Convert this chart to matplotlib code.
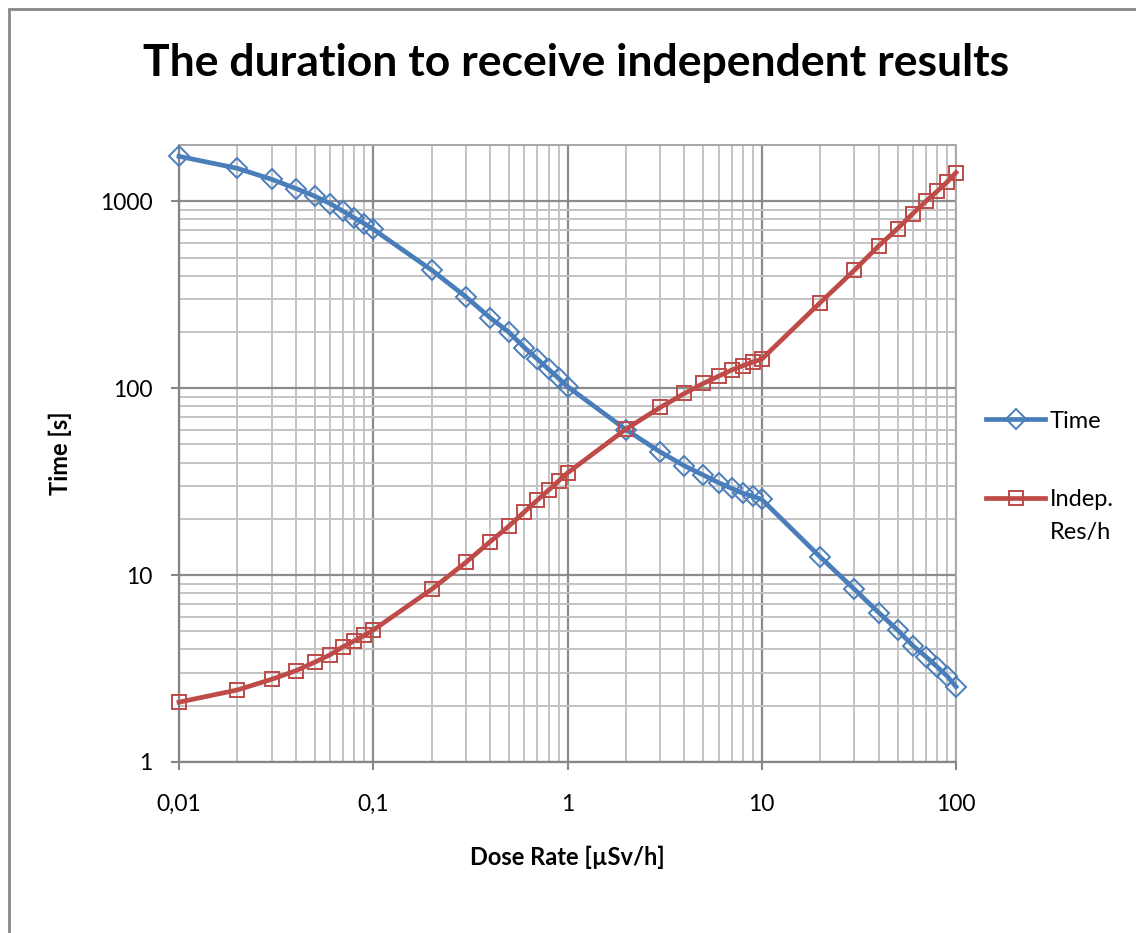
import numpy as np
import matplotlib.pyplot as plt
from matplotlib.patches import Rectangle
from matplotlib.lines import Line2D

plt.rcParams['font.family'] = ['Lato', 'DejaVu Sans']

dose = [0.01, 0.02, 0.03, 0.04, 0.05, 0.06, 0.07, 0.08, 0.09,
        0.1, 0.2, 0.3, 0.4, 0.5, 0.6, 0.7, 0.8, 0.9,
        1, 2, 3, 4, 5, 6, 7, 8, 9,
        10, 20, 30, 40, 50, 60, 70, 80, 90, 100]

time_s = [1740, 1500, 1310, 1170, 1065, 972, 884, 814, 760,
          708, 428, 308, 238, 199, 165, 143, 126, 113,
          102, 60, 45.6, 38.4, 34.3, 31.2, 29.1, 27.4, 26.4,
          25.4, 12.5, 8.4, 6.3, 5.08, 4.19, 3.66, 3.23, 2.88, 2.53]

indep_res_h = [2.09, 2.43, 2.77, 3.08, 3.42, 3.75, 4.14, 4.45, 4.76,
               5.08, 8.4, 11.7, 15.1, 18.3, 21.8, 25.2, 28.5, 31.9,
               35.2, 60.4, 78.9, 93.7, 106, 116, 125, 132, 138,
               143, 287, 428, 577, 714, 860, 1000, 1131, 1268, 1424]

x_ticks = [0.01, 0.1, 1, 10, 100]
x_tick_labels = ['0,01', '0,1', '1', '10', '100']
y_ticks = [1, 10, 100, 1000]
y_tick_labels = ['1', '10', '100', '1000']

blue = '#4A7EBB'
red = '#BE4B48'

fig = plt.figure(figsize=(11.36, 9.33), dpi=100)
# outer chart border
fig.patches.append(Rectangle((9/1136, -0.1), 1.2, 1 - 9/933 + 0.1,
                             transform=fig.transFigure, fill=False,
                             edgecolor='#888888', lw=2))

ax = fig.add_axes([179/1136, 1 - 762/933, (956 - 179)/1136, (762 - 145)/933])
ax.set_xscale('log')
ax.set_yscale('log')
ax.set_xlim(0.01, 100)
ax.set_ylim(1, 2000)

ax.grid(True, which='major', color='#8c8c8c', lw=1.6)
ax.grid(True, which='minor', color='#c3c3c3', lw=1.4)
ax.set_axisbelow(True)

l1, = ax.plot(dose, time_s, color=blue, lw=3.4, marker='D', ms=10.5,
              mfc='none', mec=blue, mew=1.4, clip_on=False, zorder=3)
l2, = ax.plot(dose, indep_res_h, color=red, lw=3.4, marker='s', ms=10,
              mfc='none', mec=red, mew=1.4, clip_on=False, zorder=3)

ax.set_xticks(x_ticks)
ax.set_xticklabels(x_tick_labels)
ax.set_yticks(y_ticks)
ax.set_yticklabels(y_tick_labels)
ax.tick_params(which='major', length=6, width=1.5, color='#868686',
               labelsize=16.5, pad=13)
ax.tick_params(axis='x', pad=17)
ax.tick_params(which='minor', length=0)
for side in ['left', 'bottom']:
    ax.spines[side].set_color('#868686')
    ax.spines[side].set_linewidth(1.6)
for side in ['top', 'right']:
    ax.spines[side].set_color('#a8a8a8')
    ax.spines[side].set_linewidth(1.4)

ax.set_xlabel('Dose Rate [µSv/h]', fontsize=17, fontweight='bold', labelpad=22)
ax.set_ylabel('Time [s]', fontsize=17, fontweight='bold', labelpad=20)
fig.text(576/1136, 1 - 63/933, 'The duration to receive independent results',
         ha='center', va='center', fontsize=32, fontweight='bold')

# legend: handle aligned with the first line of each entry
leg1 = ax.legend([l1], ['Time'], loc='center left', frameon=False,
                 bbox_to_anchor=(986/1136, 1 - 421/933),
                 bbox_transform=fig.transFigure, fontsize=17,
                 handlelength=2.5, handletextpad=0.2, borderaxespad=0,
                 borderpad=0)
ax.add_artist(leg1)
blank = Line2D([], [], color='none')
ax.legend([l2, blank], ['Indep.', 'Res/h'], loc='upper left', frameon=False,
          bbox_to_anchor=(986/1136, 1 - 489/933),
          bbox_transform=fig.transFigure, fontsize=17,
          handlelength=2.5, handletextpad=0.2, borderaxespad=0,
          borderpad=0, labelspacing=0.5)

fig.savefig('out.png', dpi=100)
